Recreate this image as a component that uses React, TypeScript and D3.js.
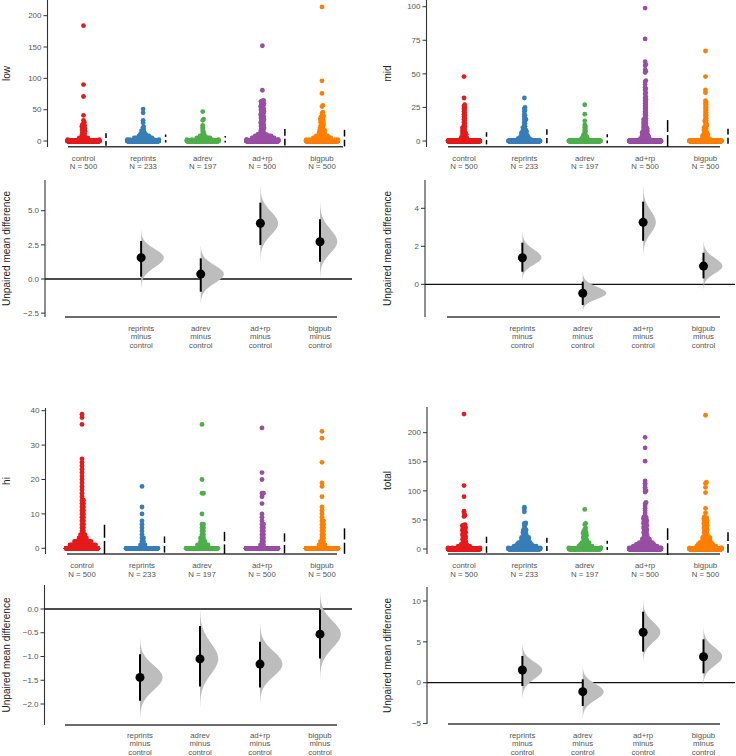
import React, { useMemo } from "react";
import * as d3 from "d3";

// ---------------- data ----------------
const groups = ["control", "reprints", "adrev", "ad+rp", "bigpub"];
const groupSizes = [500, 233, 197, 500, 500];
const contrastGroups = ["reprints", "adrev", "ad+rp", "bigpub"];
const palette = ["#e41a1c", "#377eb8", "#4daf4a", "#984ea3", "#ff7f00"];

// swarm data: counts[v] = number of observations equal to v, tails = remaining individual values
const lowCounts = [
  [455, 6, 4, 3, 2, 2, 1, 1, 1, 1, 1],
  [180, 8, 6, 5, 4, 4, 3, 3, 2, 2, 2],
  [160, 6, 5, 4, 3, 3, 2, 2, 1, 1, 1],
  [394, 8, 7, 6, 5, 5, 4, 4, 4, 3, 3],
  [420, 7, 6, 5, 4, 4, 3, 3, 3, 2, 2],
];
const lowTails = [
  [11, 12, 13, 14, 15, 16, 17, 18, 19, 20, 21, 22, 23, 24, 25, 26, 28, 30, 33, 41, 71, 90, 184],
  [11, 12, 13, 14, 15, 16, 17, 19, 21, 23, 29, 33, 45, 51],
  [12, 14, 16, 19, 22, 25, 33, 35, 47],
  [11, 12, 13, 14, 15, 16, 17, 18, 19, 20, 21, 22, 23, 24, 25, 26, 27, 28, 29, 30, 31, 32, 33, 34, 35, 36, 37, 38,
    39, 40, 41, 42, 43, 44, 45, 46, 47, 48, 49, 50, 51, 52, 53, 54, 55, 56, 57, 58, 59, 60, 61, 62, 63, 64, 65, 81, 152],
  [11, 12, 12, 13, 14, 14, 15, 16, 16, 17, 18, 18, 19, 20, 21, 22, 23, 24, 25, 26, 27, 28, 29, 30, 31, 32, 33, 34,
    35, 36, 37, 38, 39, 40, 44, 46, 55, 57, 76, 96, 214],
];
const midCounts = [
  [449, 6, 5, 4, 3, 3, 3, 2, 2, 2, 2],
  [170, 10, 8, 6, 5, 4, 4, 3, 3, 2, 2],
  [170, 6, 4, 3, 2, 2, 1, 1, 1, 1, 1],
  [410, 8, 6, 5, 5, 4, 4, 4, 3, 3, 3],
  [440, 7, 5, 4, 4, 3, 3, 2, 2, 2, 2],
];
const midTails = [
  [11, 12, 13, 14, 15, 16, 17, 18, 19, 20, 21, 22, 23, 24, 25, 26, 27, 32, 48],
  [11, 12, 13, 14, 15, 16, 16, 17, 18, 19, 20, 22, 23, 24, 25, 32],
  [11, 12, 15, 20, 27],
  [11, 11, 12, 12, 13, 13, 14, 14, 15, 15, 16, 16, 17, 18, 19, 20, 21, 22, 23, 24, 25, 26, 27, 28, 29, 30, 31, 32,
    33, 35, 36, 38, 39, 40, 42, 44, 45, 51, 52, 53, 56, 57, 59, 76, 99],
  [11, 12, 12, 13, 14, 15, 15, 16, 17, 18, 19, 20, 21, 22, 23, 24, 25, 26, 27, 28, 29, 30, 36, 38, 48, 67],
];
const hiCounts = [
  [425, 18, 12, 6, 4, 2, 2, 2, 2, 2, 2, 2, 2, 2, 2, 1, 1, 1, 1, 1, 1, 1, 1, 1, 1, 1, 1],
  [217, 4, 2, 2, 1, 1, 1, 1, 1],
  [169, 8, 4, 3, 2, 2, 2, 2],
  [475, 3, 2, 2, 2, 2, 2, 2, 1, 1, 1],
  [470, 5, 3, 2, 2, 2, 2, 2, 2, 1, 1, 1, 1],
];
const hiTails = [
  [36, 38, 39],
  [10, 12, 18],
  [10, 16, 16, 20, 36],
  [13, 15, 16, 16, 20, 22, 35],
  [15, 18, 19, 25, 32, 34],
];
const totalCounts = [
  [434, 6, 5, 4, 3, 2, 2, 2, 1, 1, 1, 1],
  [142, 8, 7, 6, 5, 5, 4, 4, 3, 3, 3, 3],
  [139, 6, 5, 4, 3, 3, 3, 2, 2, 2, 2, 2],
  [377, 8, 7, 6, 6, 5, 5, 4, 4, 4, 3, 3],
  [393, 7, 6, 5, 5, 4, 4, 4, 3, 3, 3, 3],
];
const totalTails = [
  [12, 13, 14, 15, 16, 17, 18, 19, 20, 21, 22, 23, 24, 25, 26, 27, 28, 29, 30, 31, 32, 33, 34, 35, 36, 37, 38, 39,
    40, 41, 42, 56, 58, 62, 65, 90, 109, 232],
  [12, 12, 13, 13, 14, 14, 15, 15, 16, 16, 17, 17, 18, 18, 19, 19, 20, 20, 21, 22, 23, 24, 25, 26, 27, 28, 29, 30,
    31, 32, 33, 34, 35, 40, 42, 44, 45, 64, 69, 72],
  [12, 13, 14, 15, 16, 17, 18, 19, 20, 21, 22, 23, 24, 25, 26, 27, 28, 29, 30, 34, 36, 42, 44, 68],
  [12, 12, 13, 13, 14, 14, 15, 15, 16, 16, 17, 17, 18, 18, 19, 20, 21, 22, 23, 24, 25, 26, 27, 28, 29, 30, 31, 32,
    33, 34, 35, 36, 37, 38, 39, 40, 41, 42, 43, 44, 45, 46, 47, 48, 49, 50, 51, 52, 53, 54, 55, 58, 62, 66, 70, 74,
    78, 80, 98, 100, 103, 106, 110, 113, 117, 151, 174, 192],
  [12, 12, 13, 13, 14, 14, 15, 15, 16, 16, 17, 17, 18, 18, 19, 19, 20, 20, 21, 22, 23, 24, 25, 26, 27, 28, 29, 30,
    31, 32, 33, 34, 35, 36, 37, 38, 39, 40, 41, 42, 43, 44, 45, 46, 47, 48, 49, 50, 51, 52, 53, 54, 55, 62, 70, 97,
    106, 113, 115, 230],
];

// group mean and standard deviation
const lowMeans = [2.4, 4.0, 2.9, 6.0, 4.6];
const lowSds = [9.9, 6.4, 5.2, 13.3, 13.3];
const midMeans = [2.0, 3.5, 1.65, 5.6, 3.6];
const midSds = [4.5, 5.2, 3.35, 10.0, 5.6];
const hiMeans = [2.6, 1.1, 1.6, 1.45, 2.1];
const hiSds = [4.25, 2.35, 3.2, 2.9, 3.7];
const totalMeans = [7.4, 8.0, 6.3, 12.7, 11.2];
const totalSds = [13.8, 11.5, 8.0, 23.0, 17.6];

// unpaired mean differences vs control, 95% CI, bootstrap extent
const lowDiff = [1.56, 0.36, 4.08, 2.73];
const lowCiLo = [0.17, -0.93, 2.49, 1.27];
const lowCiHi = [2.78, 1.51, 5.59, 4.37];
const lowBootLo = [-0.68, -1.78, 1.34, 0.05];
const lowBootHi = [3.59, 2.42, 6.81, 5.66];

const midDiff = [1.4, -0.47, 3.26, 0.96];
const midCiLo = [0.66, -1.09, 2.29, 0.31];
const midCiHi = [2.19, 0.14, 4.35, 1.66];
const midBootLo = [0.23, -1.44, 1.42, -0.26];
const midBootHi = [2.77, 0.61, 5.23, 2.3];

const hiDiff = [-1.44, -1.05, -1.16, -0.53];
const hiCiLo = [-1.93, -1.63, -1.65, -1.04];
const hiCiHi = [-0.95, -0.36, -0.69, -0.01];
const hiBootLo = [-2.3, -2.07, -1.99, -1.46];
const hiBootHi = [-0.62, 0.01, -0.3, 0.36];

const totalDiff = [1.55, -1.1, 6.17, 3.18];
const totalCiLo = [-0.4, -2.85, 3.8, 1.15];
const totalCiHi = [3.27, 0.41, 8.69, 5.31];
const totalBootLo = [-1.91, -4.36, 2.45, -0.28];
const totalBootHi = [4.74, 1.96, 10.1, 6.78];

const lowTicks = [0, 50, 100, 150, 200];
const midTicks = [0, 25, 50, 75, 100];
const hiTicks = [0, 10, 20, 30, 40];
const totalTicks = [0, 50, 100, 150, 200];
const lowDiffTicks = [-2.5, 0, 2.5, 5];
const midDiffTicks = [0, 2, 4];
const hiDiffTicks = [-2, -1.5, -1, -0.5, 0];
const totalDiffTicks = [-5, 0, 5, 10];

// ---------------- layout ----------------
const FONT = "'Liberation Sans', Arial, Helvetica, sans-serif";
const TICK_COLOR = "#555";
const AXIS_COLOR = "#333";
const DOT_R = 2.4;
const COLL_R = 0.75;
const HALF_W = 16;

const panels = [
  {
    metric: "low", counts: lowCounts, tails: lowTails, means: lowMeans, sds: lowSds, ticks: lowTicks, fmt: "d",
    diff: lowDiff, ciLo: lowCiLo, ciHi: lowCiHi, bootLo: lowBootLo, bootHi: lowBootHi, diffTicks: lowDiffTicks, diffFmt: ".1f",
    xRange: [83.5, 322], ylabX: 9.5, K: 1320,
    sw: { axisX: 47.5, yA: [0, 141, 200, 15.7], top: 0, bot: 147, xl: [68, 343], xlY: 146.7, lab: 160.5 },
    ct: { axisX: 45, yA: [0, 279, 5, 210.7], top: 180, bot: 317, xl: [65, 337], xlY: 317, zeroR: 352, lab: 330.5 },
  },
  {
    metric: "mid", counts: midCounts, tails: midTails, means: midMeans, sds: midSds, ticks: midTicks, fmt: "d",
    diff: midDiff, ciLo: midCiLo, ciHi: midCiHi, bootLo: midBootLo, bootHi: midBootHi, diffTicks: midDiffTicks, diffFmt: "d",
    xRange: [464, 705.5], ylabX: 391, K: 920,
    sw: { axisX: 426.5, yA: [0, 141, 100, 6.7], top: 0, bot: 147, xl: [448, 720], xlY: 146.7, lab: 160.5 },
    ct: { axisX: 425, yA: [0, 284.3, 4, 208.3], top: 180, bot: 317, xl: [447, 720], xlY: 317, zeroR: 735, lab: 330.5 },
  },
  {
    metric: "hi", counts: hiCounts, tails: hiTails, means: hiMeans, sds: hiSds, ticks: hiTicks, fmt: "d",
    diff: hiDiff, ciLo: hiCiLo, ciHi: hiCiHi, bootLo: hiBootLo, bootHi: hiBootHi, diffTicks: hiDiffTicks, diffFmt: ".1f",
    xRange: [82, 322], ylabX: 9.5, K: 1800,
    sw: { axisX: 45.5, yA: [0, 548.3, 40, 410.7], top: 408, bot: 554, xl: [67, 337], xlY: 554, lab: 568 },
    ct: { axisX: 44.5, yA: [0, 609, -2, 704], top: 585, bot: 725, xl: [65, 337], xlY: 725, zeroR: 352, lab: 737.5 },
  },
  {
    metric: "total", counts: totalCounts, tails: totalTails, means: totalMeans, sds: totalSds, ticks: totalTicks, fmt: "d",
    diff: totalDiff, ciLo: totalCiLo, ciHi: totalCiHi, bootLo: totalBootLo, bootHi: totalBootHi, diffTicks: totalDiffTicks, diffFmt: "d",
    xRange: [464, 705.5], ylabX: 391, K: 1080,
    sw: { axisX: 427, yA: [0, 549, 200, 432.7], top: 407, bot: 554, xl: [448, 720], xlY: 554, lab: 568 },
    ct: { axisX: 427, yA: [0, 682.7, 10, 601], top: 587, bot: 724, xl: [448, 720], xlY: 724, zeroR: 735, lab: 737.5 },
  },
];

function expand(counts: number[], tail: number[]): number[] {
  const out: number[] = [];
  counts.forEach((c, v) => {
    for (let i = 0; i < c; i++) out.push(v);
  });
  return out.concat(tail);
}

function vdc(n: number): number {
  let v = 0, denom = 1;
  while (n > 0) {
    denom *= 2;
    v += (n % 2) / denom;
    n = Math.floor(n / 2);
  }
  return v;
}

// beeswarm with gutter: points that cannot fit are spread across the band
function swarm(values: number[], y: (v: number) => number) {
  const sorted = values.slice().sort((a, b) => a - b);
  const d = 2 * COLL_R;
  const d2 = d * d;
  const obs: { x: number; y: number }[] = [];
  const out: { x: number; y: number }[] = [];
  let fb = 1;
  for (const v of sorted) {
    const py = y(v);
    const nb: { x: number; y: number; dy: number }[] = [];
    for (let i = obs.length - 1; i >= 0; i--) {
      const dy = Math.abs(obs[i].y - py);
      if (dy < d) nb.push({ x: obs[i].x, y: obs[i].y, dy });
      else break;
    }
    const cands: number[] = [0];
    for (const n of nb) {
      const dx = Math.sqrt(Math.max(0, d2 - n.dy * n.dy));
      cands.push(n.x + dx, n.x - dx);
    }
    const valid = cands.filter((c) => Math.abs(c) <= HALF_W + 1e-9);
    valid.sort((a, b) => Math.abs(a) - Math.abs(b) || b - a);
    let chosen: number | null = null;
    for (const c of valid) {
      let ok = true;
      for (const n of nb) {
        const dx = c - n.x;
        if (dx * dx + n.dy * n.dy < d2 - 1e-6) { ok = false; break; }
      }
      if (ok) { chosen = c; break; }
    }
    if (chosen !== null) {
      obs.push({ x: chosen, y: py });
      out.push({ x: chosen, y: py });
    } else {
      const x = -HALF_W + 2 * HALF_W * vdc(fb++);
      out.push({ x, y: py });
    }
  }
  return out;
}

function anchorScale(a: number[]) {
  return d3.scaleLinear().domain([a[0], a[2]]).range([a[1], a[3]]);
}

function violinPath(lo: number, hi: number, peak: number, ys: d3.ScaleLinear<number, number>, cx: number, K: number) {
  const spanPx = Math.abs(ys(lo) - ys(hi));
  const wMax = K / spanPx;
  const sUp = (hi - peak) / 3.2;
  const sDn = (peak - lo) / 3.2;
  const n = 90;
  const pts: [number, number][] = d3.range(n + 1).map((i) => {
    const v = lo + ((hi - lo) * i) / n;
    const s = v >= peak ? sUp : sDn;
    const dens = Math.exp(-0.5 * ((v - peak) / s) ** 2);
    return [cx + wMax * dens, ys(v)];
  });
  const line = d3.line();
  return `M${cx},${ys(lo)}` + line(pts)!.replace(/^M/, "L") + `L${cx},${ys(hi)}Z`;
}

function YAxis({ x, top, bot, ticks, scale, fmt }: any) {
  const f = d3.format(fmt);
  return (
    <g>
      <line x1={x} x2={x} y1={top} y2={bot} stroke={AXIS_COLOR} strokeWidth={1.1} />
      {ticks.map((t: number) => (
        <g key={t}>
          <line x1={x - 4} x2={x} y1={scale(t)} y2={scale(t)} stroke={AXIS_COLOR} strokeWidth={1} />
          <text x={x - 6} y={scale(t)} dy="0.34em" textAnchor="end" fontSize={8} fill={TICK_COLOR} fontFamily={FONT}>
            {f(t)}
          </text>
        </g>
      ))}
    </g>
  );
}

function Panel({ p }: any) {
  const xs = d3.scalePoint<string>().domain(groups).range(p.xRange);
  const ys = anchorScale(p.sw.yA);
  const yc = anchorScale(p.ct.yA);
  const swarms = useMemo(
    () => groups.map((_, i) => swarm(expand(p.counts[i], p.tails[i]), ys)),
    [p]
  );
  const gap = 1.6;
  const swMid = (p.sw.top + p.sw.bot) / 2;
  const ctMid = (p.ct.top + p.ct.bot) / 2;
  return (
    <g>
      {/* swarm panel */}
      <YAxis x={p.sw.axisX} top={p.sw.top} bot={p.sw.bot} ticks={p.ticks} scale={ys} fmt={p.fmt} />
      <line x1={p.sw.xl[0]} x2={p.sw.xl[1]} y1={p.sw.xlY} y2={p.sw.xlY} stroke="#3a3a3a" strokeWidth={1.6} />
      <text transform={`translate(${p.ylabX},${swMid}) rotate(-90)`} textAnchor="middle" fontSize={10} fill="#222" fontFamily={FONT}>
        {p.metric}
      </text>
      {groups.map((g, i) => {
        const cx = xs(g)!;
        return (
          <g key={g}>
            {swarms[i].map((pt, j) => (
              <circle key={j} cx={cx + pt.x} cy={pt.y} r={DOT_R} fill={palette[i]} />
            ))}
          </g>
        );
      })}
      {groups.map((g, i) => {
        const mx = xs(g)! + 22.5;
        const m = p.means[i];
        const s = p.sds[i];
        return (
          <g key={"ms" + g} stroke="#000" strokeWidth={1.5}>
            <line x1={mx} x2={mx} y1={ys(m - s)} y2={ys(m) + gap} />
            <line x1={mx} x2={mx} y1={ys(m) - gap} y2={ys(m + s)} />
          </g>
        );
      })}
      {groups.map((g, i) => (
        <g key={"lab" + g} fontSize={7.8} fill={TICK_COLOR} fontFamily={FONT} textAnchor="middle">
          <text x={xs(g)} y={p.sw.lab}>{g}</text>
          <text x={xs(g)} y={p.sw.lab + 8.6}>{`N = ${groupSizes[i]}`}</text>
        </g>
      ))}

      {/* contrast panel */}
      <YAxis x={p.ct.axisX} top={p.ct.top} bot={p.ct.bot} ticks={p.diffTicks} scale={yc} fmt={p.diffFmt} />
      <line x1={p.ct.axisX} x2={p.ct.zeroR} y1={yc(0)} y2={yc(0)} stroke="#111" strokeWidth={1.3} />
      <line x1={p.ct.xl[0]} x2={p.ct.xl[1]} y1={p.ct.xlY} y2={p.ct.xlY} stroke="#3a3a3a" strokeWidth={1.6} />
      <text transform={`translate(${p.ylabX},${ctMid}) rotate(-90)`} textAnchor="middle" fontSize={10} fill="#222" fontFamily={FONT}>
        Unpaired mean difference
      </text>
      {contrastGroups.map((g, i) => {
        const cx = xs(g)! - 2;
        return (
          <g key={"c" + g}>
            <path d={violinPath(p.bootLo[i], p.bootHi[i], p.diff[i], yc, cx, p.K)} fill="#bdbdbd" />
            <line x1={cx} x2={cx} y1={yc(p.ciLo[i])} y2={yc(p.ciHi[i])} stroke="#000" strokeWidth={2} />
            <circle cx={cx} cy={yc(p.diff[i])} r={4.5} fill="#000" />
            <g fontSize={7.8} fill={TICK_COLOR} fontFamily={FONT} textAnchor="middle">
              <text x={cx} y={p.ct.lab}>{g}</text>
              <text x={cx} y={p.ct.lab + 8.6}>minus</text>
              <text x={cx} y={p.ct.lab + 17.2}>control</text>
            </g>
          </g>
        );
      })}
    </g>
  );
}

export default function App() {
  return (
    <svg width={736} height={756} style={{ position: "absolute", left: 0, top: 0, background: "#fff" }}>
      <rect width={736} height={756} fill="#fff" />
      {panels.map((p) => (
        <Panel key={p.metric} p={p} />
      ))}
    </svg>
  );
}
